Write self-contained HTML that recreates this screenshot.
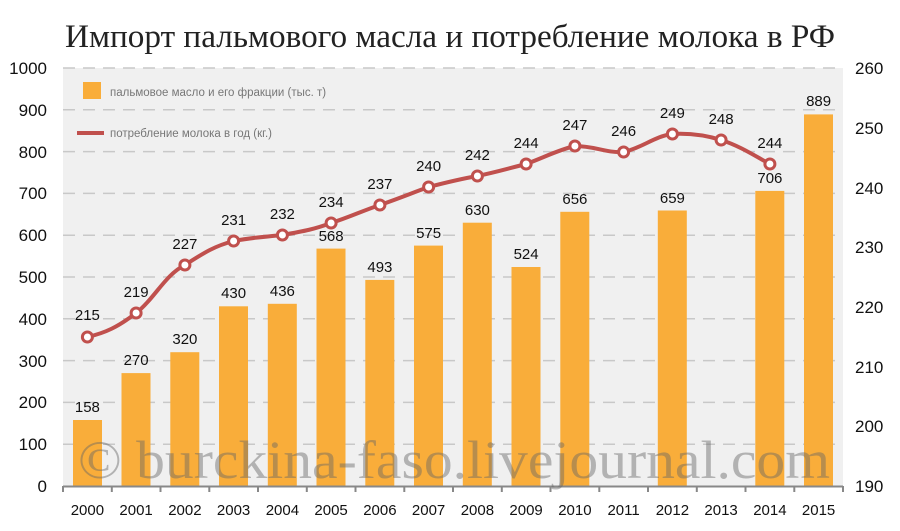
<!DOCTYPE html>
<html><head><meta charset="utf-8"><style>
body{margin:0;background:#fff;}
svg{display:block;}
</style></head><body>
<svg width="900" height="531" xmlns="http://www.w3.org/2000/svg" font-family="Liberation Sans, DejaVu Sans, sans-serif">
<rect width="900" height="531" fill="#fff"/>
<text x="450" y="47" text-anchor="middle" font-family="Liberation Serif, serif" font-size="33" fill="#222" textLength="770" lengthAdjust="spacingAndGlyphs">Импорт пальмового масла и потребление молока в РФ</text>
<rect x="63" y="68" width="780" height="418" fill="#f0f0f0"/>
<g stroke="#c8c8c8" stroke-width="1.5" stroke-dasharray="12,8">
<line x1="63" x2="843" y1="68" y2="68"/><line x1="63" x2="843" y1="109.8" y2="109.8"/>
<line x1="63" x2="843" y1="151.6" y2="151.6"/><line x1="63" x2="843" y1="193.4" y2="193.4"/>
<line x1="63" x2="843" y1="235.2" y2="235.2"/><line x1="63" x2="843" y1="277" y2="277"/>
<line x1="63" x2="843" y1="318.8" y2="318.8"/><line x1="63" x2="843" y1="360.6" y2="360.6"/>
<line x1="63" x2="843" y1="402.4" y2="402.4"/><line x1="63" x2="843" y1="444.2" y2="444.2"/>
</g>
<g font-size="17" fill="#111" text-anchor="end">
<text x="47" y="74">1000</text><text x="47" y="116">900</text><text x="47" y="158">800</text><text x="47" y="199">700</text><text x="47" y="241">600</text><text x="47" y="283">500</text><text x="47" y="325">400</text><text x="47" y="367">300</text><text x="47" y="408">200</text><text x="47" y="450">100</text><text x="47" y="492">0</text>
</g>
<g font-size="17" fill="#111" text-anchor="start">
<text x="855" y="74">260</text><text x="855" y="134">250</text><text x="855" y="194">240</text><text x="855" y="253">230</text><text x="855" y="313">220</text><text x="855" y="373">210</text><text x="855" y="432">200</text><text x="855" y="492">190</text>
</g>
<g fill="#f9ad3a">
<rect x="73" y="420" width="29" height="66"/>
<rect x="121.5" y="373.1" width="29" height="112.9"/>
<rect x="170.3" y="352.2" width="29" height="133.8"/>
<rect x="219" y="306.3" width="29" height="179.7"/>
<rect x="267.8" y="303.8" width="29" height="182.2"/>
<rect x="316.5" y="248.6" width="29" height="237.4"/>
<rect x="365.3" y="279.9" width="29" height="206.1"/>
<rect x="414" y="245.6" width="29" height="240.4"/>
<rect x="462.8" y="222.7" width="29" height="263.3"/>
<rect x="511.5" y="267" width="29" height="219"/>
<rect x="560.3" y="211.8" width="29" height="274.2"/>
<rect x="657.8" y="210.5" width="29" height="275.5"/>
<rect x="755.3" y="190.9" width="29" height="295.1"/>
<rect x="804" y="114.4" width="29" height="371.6"/>
</g>
<line x1="63" x2="843" y1="486.5" y2="486.5" stroke="#888" stroke-width="2"/>
<g stroke="#888" stroke-width="2">
<line x1="63" x2="63" y1="486" y2="492"/><line x1="111.8" x2="111.8" y1="486" y2="492"/><line x1="160.5" x2="160.5" y1="486" y2="492"/><line x1="209.3" x2="209.3" y1="486" y2="492"/><line x1="258" x2="258" y1="486" y2="492"/><line x1="306.8" x2="306.8" y1="486" y2="492"/><line x1="355.5" x2="355.5" y1="486" y2="492"/><line x1="404.3" x2="404.3" y1="486" y2="492"/><line x1="453" x2="453" y1="486" y2="492"/><line x1="501.8" x2="501.8" y1="486" y2="492"/><line x1="550.5" x2="550.5" y1="486" y2="492"/><line x1="599.3" x2="599.3" y1="486" y2="492"/><line x1="648" x2="648" y1="486" y2="492"/><line x1="696.8" x2="696.8" y1="486" y2="492"/><line x1="745.5" x2="745.5" y1="486" y2="492"/><line x1="794.3" x2="794.3" y1="486" y2="492"/><line x1="843" x2="843" y1="486" y2="492"/>
</g>
<g font-size="15" fill="#111" text-anchor="middle">
<text x="87.4" y="515">2000</text><text x="136.1" y="515">2001</text><text x="184.9" y="515">2002</text><text x="233.6" y="515">2003</text><text x="282.4" y="515">2004</text><text x="331.1" y="515">2005</text><text x="379.9" y="515">2006</text><text x="428.6" y="515">2007</text><text x="477.4" y="515">2008</text><text x="526.1" y="515">2009</text><text x="574.9" y="515">2010</text><text x="623.6" y="515">2011</text><text x="672.4" y="515">2012</text><text x="721.1" y="515">2013</text><text x="769.9" y="515">2014</text><text x="818.6" y="515">2015</text>
</g>
<g font-size="15" fill="#111" text-anchor="middle">
<text x="87.4" y="412">158</text><text x="136.1" y="365">270</text><text x="184.9" y="344">320</text><text x="233.6" y="298">430</text><text x="282.4" y="296">436</text><text x="331.1" y="241">568</text><text x="379.9" y="272">493</text><text x="428.6" y="238">575</text><text x="477.4" y="215">630</text><text x="526.1" y="259">524</text><text x="574.9" y="204">656</text><text x="672.4" y="203">659</text><text x="769.9" y="183">706</text><text x="818.6" y="106">889</text>
</g>
<path d="M87.4,337 C105,333 118,327 136.1,313 C155,298 165,275 184.9,265 C205,252 215,246 233.6,241 C255,237 265,237 282.4,235 C305,231 315,229 331.1,223 C350,217 362,211 379.9,205 C400,198 412,193 428.6,187 C448,182 460,179 477.4,176 C497,172 510,168 526.1,164 C545,157 558,150 574.9,146 C595,146 605,153 623.6,152 C642,148 655,136 672.4,134 C690,133 705,135 721.1,140 C740,146 755,156 769.9,164" fill="none" stroke="#c0504d" stroke-width="4"/>
<g fill="#fff" stroke="#c0504d" stroke-width="3">
<circle cx="87.4" cy="337" r="5"/><circle cx="136.1" cy="313" r="5"/><circle cx="184.9" cy="265" r="5"/><circle cx="233.6" cy="241" r="5"/><circle cx="282.4" cy="235" r="5"/><circle cx="331.1" cy="223" r="5"/><circle cx="379.9" cy="205" r="5"/><circle cx="428.6" cy="187" r="5"/><circle cx="477.4" cy="176" r="5"/><circle cx="526.1" cy="164" r="5"/><circle cx="574.9" cy="146" r="5"/><circle cx="623.6" cy="152" r="5"/><circle cx="672.4" cy="134" r="5"/><circle cx="721.1" cy="140" r="5"/><circle cx="769.9" cy="164" r="5"/>
</g>
<g font-size="15" fill="#111" text-anchor="middle">
<text x="87.4" y="320">215</text><text x="136.1" y="297">219</text><text x="184.9" y="249">227</text><text x="233.6" y="225">231</text><text x="282.4" y="219">232</text><text x="331.1" y="207">234</text><text x="379.9" y="189">237</text><text x="428.6" y="171">240</text><text x="477.4" y="160">242</text><text x="526.1" y="148">244</text><text x="574.9" y="130">247</text><text x="623.6" y="136">246</text><text x="672.4" y="118">249</text><text x="721.1" y="124">248</text><text x="769.9" y="148">244</text>
</g>
<rect x="83" y="82" width="18" height="17" fill="#f9ad3a"/>
<text x="110" y="96" font-size="11.5" fill="#777">пальмовое масло и его фракции (тыс. т)</text>
<line x1="77" x2="104" y1="133" y2="133" stroke="#c0504d" stroke-width="4"/>
<text x="110" y="137" font-size="11.5" fill="#777">потребление молока в год (кг.)</text>
<text x="454" y="478" text-anchor="middle" font-family="Liberation Serif, serif" font-size="54" fill="#666" fill-opacity="0.45" textLength="752" lengthAdjust="spacingAndGlyphs">© burckina-faso.livejournal.com</text>
</svg>
</body></html>
